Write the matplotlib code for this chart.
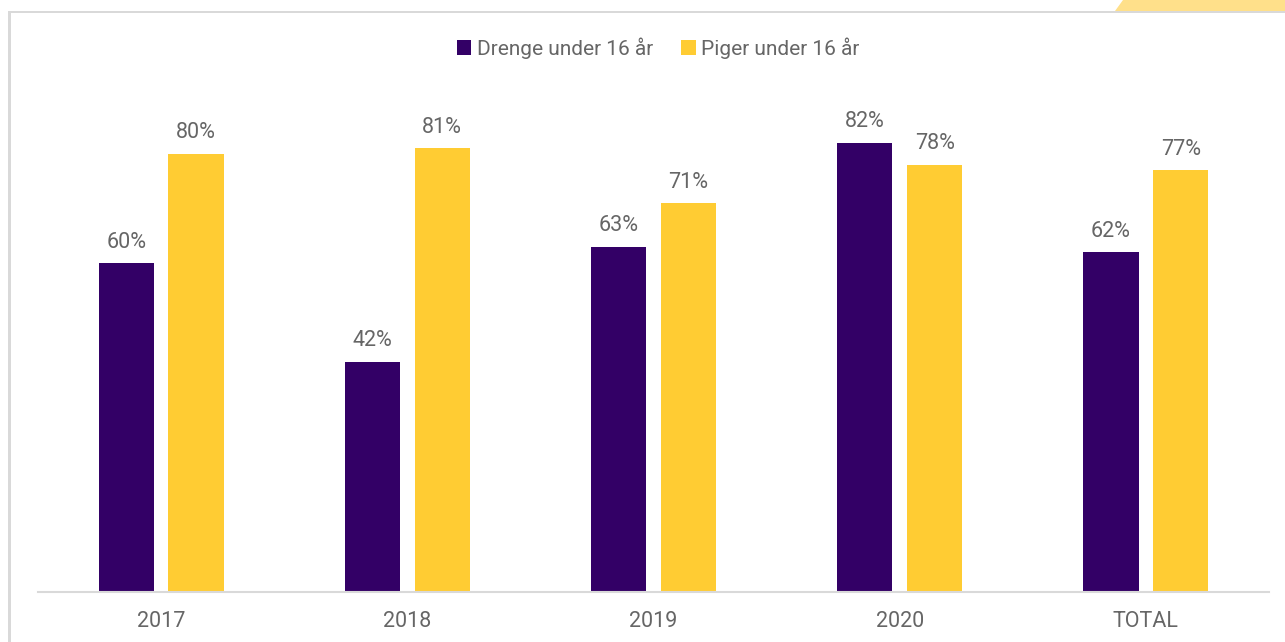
import numpy as np
import matplotlib.pyplot as plt
from matplotlib.patches import Polygon, Rectangle

plt.rcParams['font.family'] = ['Roboto', 'DejaVu Sans']

categories = ['2017', '2018', '2019', '2020', 'TOTAL']
drenge = [60, 42, 63, 82, 62]
piger = [80, 81, 71, 78, 77]
series_names = ['Drenge under 16 år', 'Piger under 16 år']

purple = '#330066'
yellow = '#FFCC33'
grey_txt = '#666666'
fs = 15.5

W, H = 1285, 642
fig = plt.figure(figsize=(W / 100, H / 100), dpi=100)

# frame lines (top / left) and yellow corner
fig.add_artist(Rectangle((8 / W, 0), 2.5 / W, (H - 11) / H, transform=fig.transFigure,
                         color='#d9d9d9', lw=0))
fig.add_artist(Rectangle((8 / W, (H - 13) / H), 1 - 8 / W, 2.5 / H, transform=fig.transFigure,
                         color='#d9d9d9', lw=0))
fig.add_artist(Polygon([(1115 / W, (H - 11) / H), (1123 / W, 1), (1, 1), (1, (H - 11) / H)],
                       closed=True, transform=fig.transFigure, color='#ffe08a', lw=0))

ax = fig.add_axes([38 / W, 50 / H, 1231 / W, 548 / H])

x = np.arange(len(categories))
bw = 0.224
off = 0.142
b1 = ax.bar(x - off, drenge, bw, color=purple, label=series_names[0], zorder=2)
b2 = ax.bar(x + off, piger, bw, color=yellow, label=series_names[1], zorder=2)

for bars in (b1, b2):
    for r in bars:
        ax.annotate(f'{r.get_height():.0f}%', (r.get_x() + r.get_width() / 2, r.get_height()),
                    xytext=(0, 7.5), textcoords='offset points', ha='center', va='bottom',
                    fontsize=fs, color=grey_txt)

ax.set_xlim(-0.5, len(categories) - 0.5)
ax.set_ylim(0, 100)
ax.set_xticks(x)
ax.set_xticklabels(categories, fontsize=fs, color=grey_txt)
ax.tick_params(axis='x', length=0, pad=14)
ax.set_yticks([])
for s in ['top', 'right', 'left']:
    ax.spines[s].set_visible(False)
ax.spines['bottom'].set_color('#d9d9d9')
ax.spines['bottom'].set_linewidth(1.5)

leg = ax.legend(loc='center', bbox_to_anchor=(0.5037, 0.993), ncol=2, frameon=False,
                handlelength=0.7, handleheight=0.7, handletextpad=0.25, columnspacing=1.35,
                prop={'size': 15})
for t in leg.get_texts():
    t.set_color(grey_txt)

fig.savefig('out.png', dpi=100)
